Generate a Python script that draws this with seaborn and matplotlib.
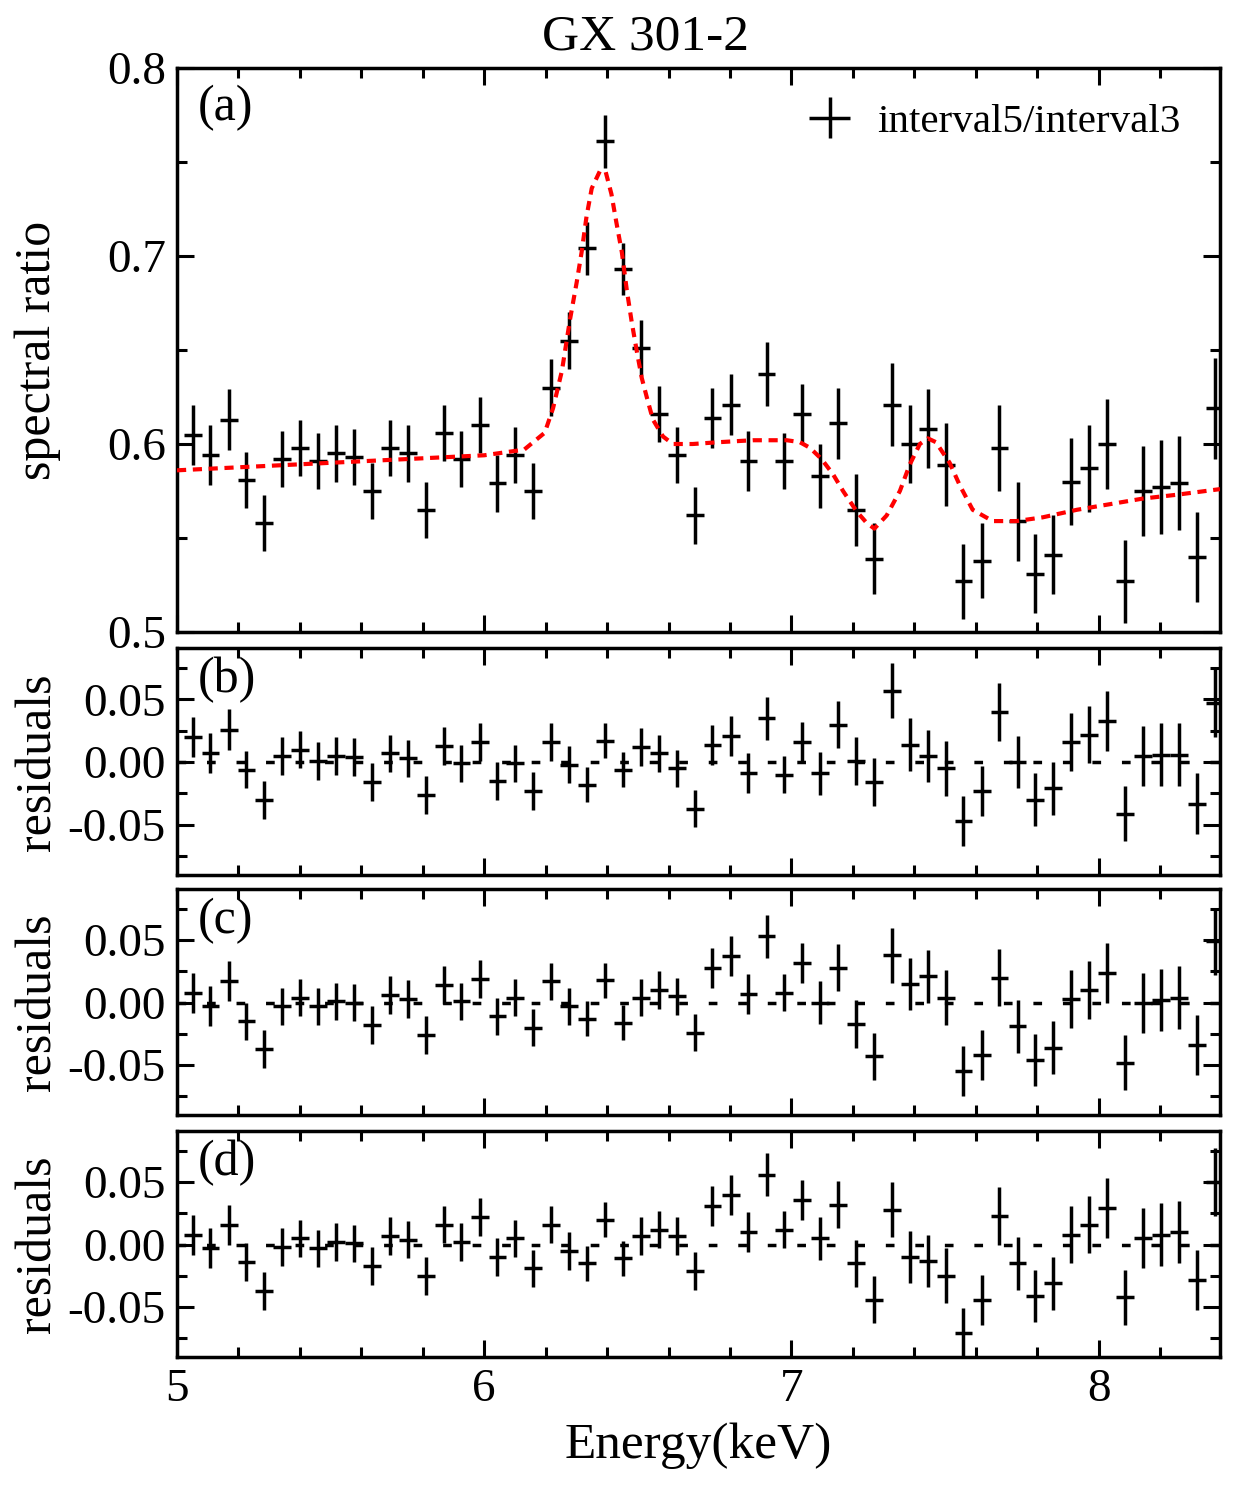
import matplotlib
matplotlib.use("Agg")
import matplotlib.pyplot as plt
from matplotlib.ticker import MultipleLocator, FuncFormatter
import seaborn as sns

# bin centres (keV)
energy = [5.051, 5.109, 5.168, 5.226, 5.284, 5.343, 5.401, 5.460, 5.518, 5.576,
          5.635, 5.693, 5.751, 5.810, 5.868, 5.926, 5.985, 6.043, 6.101, 6.160,
          6.218, 6.277, 6.335, 6.393, 6.452, 6.510, 6.568, 6.627, 6.685, 6.743,
          6.802, 6.860, 6.919, 6.977, 7.035, 7.094, 7.152, 7.210, 7.269, 7.327,
          7.385, 7.444, 7.502, 7.560, 7.619, 7.677, 7.736, 7.794, 7.852, 7.911,
          7.969, 8.027, 8.086, 8.144, 8.202, 8.261, 8.319, 8.378]
half_bin = 0.029

ratio = [0.605, 0.594, 0.613, 0.581, 0.558, 0.592, 0.598, 0.591, 0.595, 0.593,
         0.575, 0.598, 0.595, 0.565, 0.606, 0.592, 0.610, 0.579, 0.594, 0.575,
         0.630, 0.655, 0.704, 0.761, 0.693, 0.651, 0.616, 0.594, 0.562, 0.614,
         0.621, 0.591, 0.637, 0.591, 0.616, 0.583, 0.611, 0.565, 0.539, 0.621,
         0.600, 0.608, 0.589, 0.527, 0.538, 0.598, 0.559, 0.531, 0.541, 0.580,
         0.587, 0.600, 0.527, 0.575, 0.577, 0.579, 0.540, 0.619]
ratio_err = [0.016, 0.016, 0.016, 0.015, 0.015, 0.015, 0.015, 0.015, 0.015, 0.015,
             0.015, 0.015, 0.015, 0.015, 0.015, 0.015, 0.015, 0.015, 0.015, 0.015,
             0.015, 0.015, 0.014, 0.014, 0.014, 0.015, 0.015, 0.015, 0.015, 0.016,
             0.016, 0.016, 0.017, 0.015, 0.016, 0.017, 0.019, 0.019, 0.019, 0.022,
             0.021, 0.021, 0.022, 0.020, 0.020, 0.023, 0.021, 0.021, 0.021, 0.023,
             0.023, 0.024, 0.022, 0.024, 0.025, 0.025, 0.024, 0.027]

# best-fit model curve (red dashed), sampled from the figure
model_energy = [5.0, 5.5, 6.0, 6.13, 6.197, 6.224, 6.253, 6.279, 6.301, 6.317,
                6.333, 6.35, 6.376, 6.395, 6.414, 6.43, 6.448, 6.464, 6.48, 6.497,
                6.513, 6.529, 6.549, 6.582, 6.614, 6.679, 6.767, 6.874, 6.985, 7.027,
                7.06, 7.098, 7.135, 7.168, 7.213, 7.245, 7.27, 7.31, 7.353, 7.385,
                7.418, 7.444, 7.47, 7.515, 7.548, 7.59, 7.655, 7.733, 7.818, 7.929,
                8.037, 8.145, 8.254, 8.395]
model_ratio = [0.586, 0.590, 0.594, 0.597, 0.606, 0.619, 0.639, 0.666, 0.686, 0.702,
               0.721, 0.736, 0.745, 0.745, 0.733, 0.718, 0.702, 0.682, 0.665, 0.649,
               0.635, 0.625, 0.613, 0.604, 0.600, 0.600, 0.601, 0.602, 0.602, 0.601,
               0.598, 0.592, 0.584, 0.575, 0.564, 0.558, 0.555, 0.562, 0.575, 0.589,
               0.600, 0.603, 0.601, 0.590, 0.578, 0.565, 0.559, 0.559, 0.561, 0.565,
               0.568, 0.571, 0.573, 0.576]

resid_b = [0.020, 0.007, 0.026, -0.006, -0.030, 0.005, 0.010, 0.001, 0.005, 0.004,
           -0.016, 0.007, 0.003, -0.026, 0.013, -0.001, 0.016, -0.015, -0.001, -0.023,
           0.016, -0.002, -0.018, 0.017, -0.006, 0.012, 0.007, -0.005, -0.037, 0.014,
           0.021, -0.009, 0.035, -0.010, 0.016, -0.009, 0.030, 0.001, -0.016, 0.057,
           0.014, 0.005, -0.005, -0.047, -0.023, 0.040, 0.000, -0.030, -0.021, 0.016,
           0.022, 0.033, -0.041, 0.005, 0.006, 0.006, -0.033, 0.047]
resid_c = [0.008, -0.003, 0.017, -0.015, -0.037, -0.003, 0.004, -0.003, 0.001, 0.000,
           -0.018, 0.006, 0.003, -0.026, 0.014, 0.001, 0.019, -0.011, 0.004, -0.020,
           0.017, -0.003, -0.013, 0.018, -0.016, 0.004, 0.010, 0.005, -0.024, 0.028,
           0.037, 0.007, 0.053, 0.008, 0.032, 0.000, 0.028, -0.017, -0.043, 0.038,
           0.015, 0.021, 0.004, -0.055, -0.042, 0.020, -0.019, -0.046, -0.036, 0.003,
           0.010, 0.024, -0.048, 0.000, 0.002, 0.004, -0.034, 0.049]
resid_d = [0.008, -0.003, 0.016, -0.014, -0.037, -0.002, 0.005, -0.003, 0.002, 0.001,
           -0.017, 0.007, 0.004, -0.025, 0.016, 0.002, 0.022, -0.010, 0.005, -0.019,
           0.016, -0.005, -0.015, 0.020, -0.011, 0.007, 0.012, 0.007, -0.021, 0.031,
           0.040, 0.010, 0.056, 0.012, 0.036, 0.005, 0.032, -0.015, -0.044, 0.028,
           -0.010, -0.013, -0.025, -0.071, -0.044, 0.023, -0.015, -0.041, -0.031, 0.008,
           0.016, 0.029, -0.042, 0.005, 0.008, 0.010, -0.028, 0.050]

sns.set_theme(style="ticks")
plt.rcParams["font.family"] = ["Liberation Serif", "DejaVu Serif"]
plt.rcParams["axes.unicode_minus"] = False
plt.rcParams["text.color"] = "black"
plt.rcParams["axes.labelcolor"] = "black"
plt.rcParams["xtick.color"] = "black"
plt.rcParams["ytick.color"] = "black"

W_PX, H_PX = 1235, 1486
fig = plt.figure(figsize=(W_PX / 100, H_PX / 100), dpi=100)


def panel(top, bottom):
    return fig.add_axes([177 / W_PX, 1 - bottom / H_PX, 1043 / W_PX, (bottom - top) / H_PX])


def style_axes(ax):
    for s in ax.spines.values():
        s.set_linewidth(2.5)
        s.set_color("black")
    ax.tick_params(which="both", direction="in", top=True, right=True,
                   width=2.2, color="black", labelsize=34, pad=8, labelcolor="black")
    ax.tick_params(which="major", length=12)
    ax.tick_params(which="minor", length=7)
    ax.xaxis.set_major_locator(MultipleLocator(1))
    ax.xaxis.set_minor_locator(MultipleLocator(0.2))
    ax.set_xlim(5, 8.395)
    ax.grid(False)


ax_a = panel(68, 632)
ax_b = panel(648, 875)
ax_c = panel(889, 1115)
ax_d = panel(1131, 1357)

err_kw = dict(fmt="none", ecolor="black", elinewidth=2.5, capsize=0)

# top panel: spectral ratio + model
ax_a.errorbar(energy, ratio, xerr=half_bin, yerr=ratio_err,
              label="interval5/interval3", zorder=3, **err_kw)
sns.lineplot(x=model_energy, y=model_ratio, ax=ax_a, color="red", lw=3,
             linestyle=(0, (2.2, 1.6)), zorder=4, legend=False)
style_axes(ax_a)
ax_a.set_ylim(0.5, 0.8)
ax_a.yaxis.set_major_locator(MultipleLocator(0.1))
ax_a.yaxis.set_minor_locator(MultipleLocator(0.05))
ax_a.yaxis.set_major_formatter(FuncFormatter(lambda v, _: f"{v:.1f}"))
ax_a.tick_params(labelbottom=False)
ax_a.text(0.02, 0.97, "(a)", transform=ax_a.transAxes, fontsize=36, va="top", ha="left")
ax_a.legend(loc="center right", bbox_to_anchor=((1180 - 177) / 1043, 1 - (122 - 68) / 564),
            frameon=False, fontsize=29.5, handlelength=1.4, handletextpad=0.45,
            borderpad=0, borderaxespad=0, labelcolor="black")

# residual panels
for ax, res, tag in [(ax_b, resid_b, "(b)"), (ax_c, resid_c, "(c)"), (ax_d, resid_d, "(d)")]:
    ax.axhline(0, color="black", lw=2.5, linestyle=(0, (2.5, 6)), zorder=2)
    ax.errorbar(energy, res, xerr=half_bin, yerr=ratio_err, zorder=3, **err_kw)
    style_axes(ax)
    ax.set_ylim(-0.09, 0.091)
    ax.yaxis.set_major_locator(MultipleLocator(0.05))
    ax.yaxis.set_minor_locator(MultipleLocator(0.025))
    ax.yaxis.set_major_formatter(FuncFormatter(lambda v, _: f"{v:.2f}"))
    ax.text(0.02, 0.96, tag, transform=ax.transAxes, fontsize=36, va="top", ha="left")
    if ax is not ax_d:
        ax.tick_params(labelbottom=False)

# axis labels and title as figure text
fig.text(38 / W_PX, 1 - 350 / H_PX, "spectral ratio", rotation=90, fontsize=36,
         ha="center", va="center")
for yc in (762, 1002, 1244):
    fig.text(38 / W_PX, 1 - yc / H_PX, "residuals", rotation=90, fontsize=36,
             ha="center", va="center")
fig.text(698 / W_PX, 1 - 1446 / H_PX, "Energy(keV)", fontsize=37, ha="center", va="center")
fig.text(645 / W_PX, 1 - 37 / H_PX, "GX 301-2", fontsize=37, ha="center", va="center")

fig.savefig("out.png", dpi=100)
